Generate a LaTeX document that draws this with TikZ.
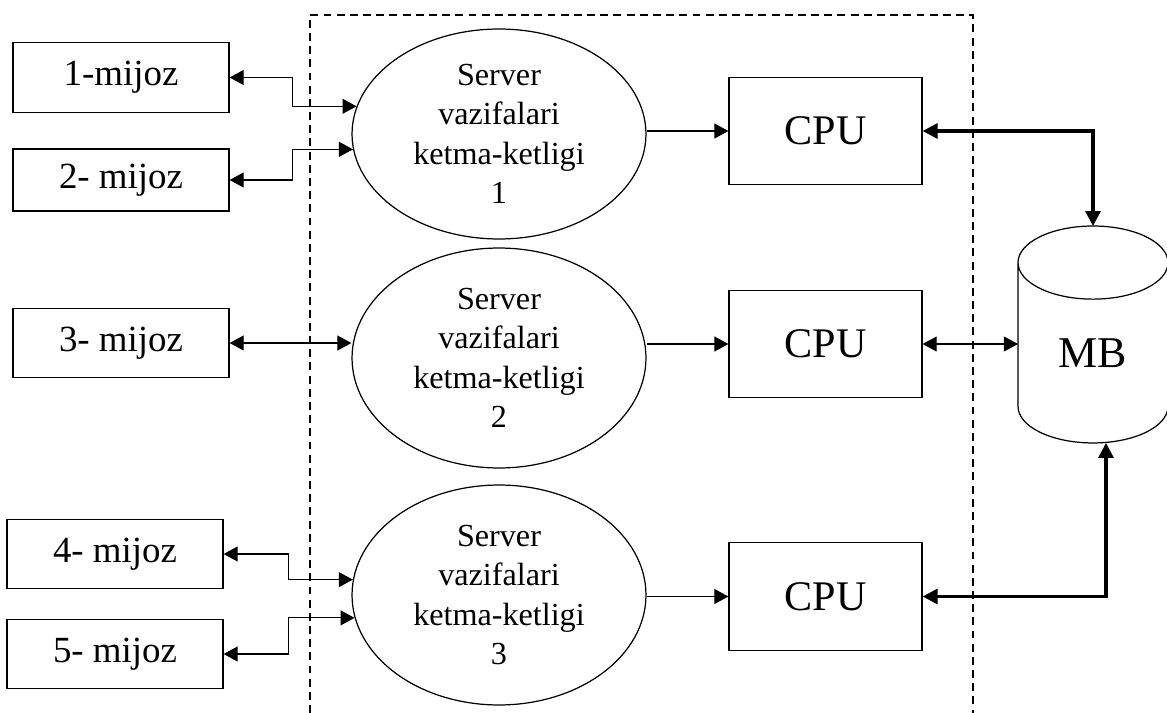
\documentclass[tikz,border=0pt]{standalone}
\usepackage{fontspec}
\setmainfont{Liberation Serif}
\usetikzlibrary{shapes.geometric,arrows.meta}
\tikzset{client node/.style={rectangle,draw,line width=0.7pt,minimum width=4.32cm,minimum height=1.39cm,inner sep=0pt,font=\fontsize{21}{25}\selectfont},
         server node/.style={ellipse,draw,line width=0.7pt,minimum width=5.88cm,minimum height=4.4cm,inner sep=0pt,align=center,font=\fontsize{18.3}{22.5}\selectfont},
         cpu node/.style={rectangle,draw,line width=0.7pt,minimum width=3.86cm,minimum height=2.15cm,inner sep=0pt,font=\fontsize{24}{28}\selectfont},
         db node/.style={cylinder,shape border rotate=90,aspect=1.07,draw,line width=0.7pt,minimum width=3cm,minimum height=4.34cm,inner sep=0pt,outer sep=0pt,font=\fontsize{25}{30}\selectfont},
         thin arrow/.style={line width=0.7pt,{Triangle[length=8pt,width=8.5pt]}-{Triangle[length=8pt,width=8.5pt]}},
         one arrow/.style={line width=0.7pt,-{Triangle[length=8pt,width=8.5pt]}},
         big arrow/.style={line width=1.8pt,{Triangle[length=8.5pt,width=8.5pt]}-{Triangle[length=8.5pt,width=8.5pt]}},
            }

\begin{document}
\begin{tikzpicture}[x=0.02cm,y=-0.02cm]
    \useasboundingbox (0,0) rectangle (1167,713);

    % dashed server frame
    \draw[line width=0.6pt,dash pattern=on 4.5pt off 3pt] (310,713) -- (310,15) -- (973,15) -- (973,713);

    \node[client node] (m1) at (121,77.5) {1-mijoz};
    \node[client node,minimum height=1.24cm] (m2) at (121,180) {2- mijoz};
    \node[client node] (m3) at (121,343) {3- mijoz};
    \node[client node] (m4) at (115,554) {4- mijoz};
    \node[client node] (m5) at (115,654) {5- mijoz};

    \node[server node,minimum height=4.2cm] (s1) at (499,134) {Server\\vazifalari\\ketma-ketligi\\1};
    \node[server node] (s2) at (499,358) {Server\\vazifalari\\ketma-ketligi\\2};
    \node[server node] (s3) at (499,595) {Server\\vazifalari\\ketma-ketligi\\3};

    \node[cpu node] (cpu1) at (825.5,131) {CPU};
    \node[cpu node] (cpu2) at (825.5,344) {CPU};
    \node[cpu node] (cpu3) at (825.5,596.5) {CPU};

    \node[db node,anchor=north] (mb) at (1093,226) {MB};

    % clients <-> servers
    \draw[thin arrow] (m1.east) -- ++(63,0) |- (s1.169);
    \draw[thin arrow] (m2.east) -- ++(63,0) |- (s1.186);
    \draw[thin arrow] (m3.east) -- (m3.east -| s2.west);
    \draw[thin arrow] (m4.east) -- ++(65,0) |- (s3.174);
    \draw[thin arrow] (m5.east) -- ++(65,0) |- (s3.189);

    % servers -> cpu
    \draw[one arrow] (s1.east |- cpu1.west) -- (cpu1.west);
    \draw[one arrow] (s2.east |- cpu2.west) -- (cpu2.west);
    \draw[one arrow] (s3.east |- cpu3.west) -- (cpu3.west);

    % cpu <-> MB
    \draw[big arrow] (cpu1.east) -| (mb.north);
    \draw[thin arrow] (cpu2.east) -- (cpu2.east -| mb.west);
    \draw[big arrow] (cpu3.east) -| ([xshift=0.26cm]mb.south);
\end{tikzpicture}
\end{document}
